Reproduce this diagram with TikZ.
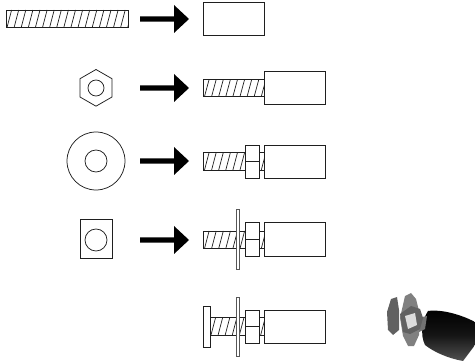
\documentclass[tikz,border=0pt]{standalone}
\usetikzlibrary{calc}
\definecolor{ln}{gray}{0.12}
\tikzset{
  part/.style={draw=ln,line width=0.75pt,fill=white},
  plate/.style={draw=ln!75,line width=0.8pt,fill=white},
  hatchline/.style={draw=ln,line width=0.7pt},
  bigarrow/.style={fill=black,draw=none}
}
% threaded rod: x1 x2 y1 y2
\newcommand{\rodshape}[4]{%
  \begin{scope}
    \clip (#1,#3) rectangle (#2,#4);
    \foreach \k in {0,...,40}{
      \draw[hatchline] ({#1+1+\k*7.1},#4) -- ({#1+1+\k*7.1+4.6},#3);
    }
  \end{scope}
  \draw[draw=ln,line width=0.75pt] (#1,#3) rectangle (#2,#4);
}
% arrow with vertical centre #1
\newcommand{\bigarrowshape}[1]{%
  \fill[bigarrow] (140,#1-2.6) -- (174,#1-2.6) -- (174,#1-14) -- (189,#1) -- (174,#1+14) -- (174,#1+2.6) -- (140,#1+2.6) -- cycle;
}
% nut and box, top #1 and bottom #2
\newcommand{\nutbox}[2]{%
  \draw[part] (245,#1) rectangle (259,#2);
  \draw[part] (245,{(#1+#2)/2}) -- (259,{(#1+#2)/2});
  \draw[part] (264,#1) rectangle (325.5,#2);
}
\begin{document}
\begin{tikzpicture}[x=1pt,y=-1pt]
\useasboundingbox (0,0) rectangle (475,361);
% row 1
\rodshape{6}{128}{10}{27.5}
\bigarrowshape{19}
\draw[part] (203.5,2.5) rectangle (264,35);
% row 2
\draw[part] (96,69.5) -- (112,78.7) -- (112,97) -- (96,106.2) -- (80,97) -- (80,78.7) -- cycle;
\draw[part] (96,88) circle (8);
\bigarrowshape{88}
\rodshape{203.5}{264}{79.5}{96.5}
\draw[part] (264.5,71) rectangle (325.5,104.5);
% row 3
\draw[part] (96,161) circle (29);
\draw[part] (96,161) circle (11);
\bigarrowshape{161}
\rodshape{203.5}{264}{152.5}{170}
\nutbox{145}{178}
% row 4
\draw[part] (80.5,219.5) rectangle (112,258);
\draw[part] (96,240) circle (11);
\bigarrowshape{240}
\rodshape{203.5}{264}{231}{248.5}
\draw[plate] (236,209.5) rectangle (239,269);
\nutbox{222.5}{256}
% row 5
\rodshape{210}{264}{317.5}{335}
\draw[part] (203.5,306.5) rectangle (210,347);
\draw[plate] (236,297) rectangle (239,356.5);
\nutbox{310}{343}
% photo
\begin{scope}
  \shade[top color=black,bottom color=black!68,middle color=black!92] (428,311) .. controls (442,309) and (462,315) .. (475,322) -- (475,345) -- (463,361) .. controls (447,358) and (434,352) .. (425,345) .. controls (420,335) and (422,320) .. (428,311) -- cycle;
  \fill[black!55] (417,318) -- (427,316) -- (425,329) -- (419,332) -- cycle;
  \fill[black!62] (391,299) -- (397,297) -- (399,310) -- (399,330) -- (393,335) -- (388,330) -- (387,312) -- cycle;
  \fill[black!50] (405,296) -- (411,293) -- (416,299) -- (420,315) -- (419,335) -- (414,346) -- (408,346) -- (403,336) -- (400,318) -- cycle;
  \fill[black!62] (400,314) -- (411,306) -- (420,309) -- (423,318) -- (420,329) -- (410,334) -- (403,332) -- cycle;
  \fill[black!14] (405,316) -- (415,313) -- (417,325) -- (408,329) -- cycle;
\end{scope}
\end{tikzpicture}
\end{document}
